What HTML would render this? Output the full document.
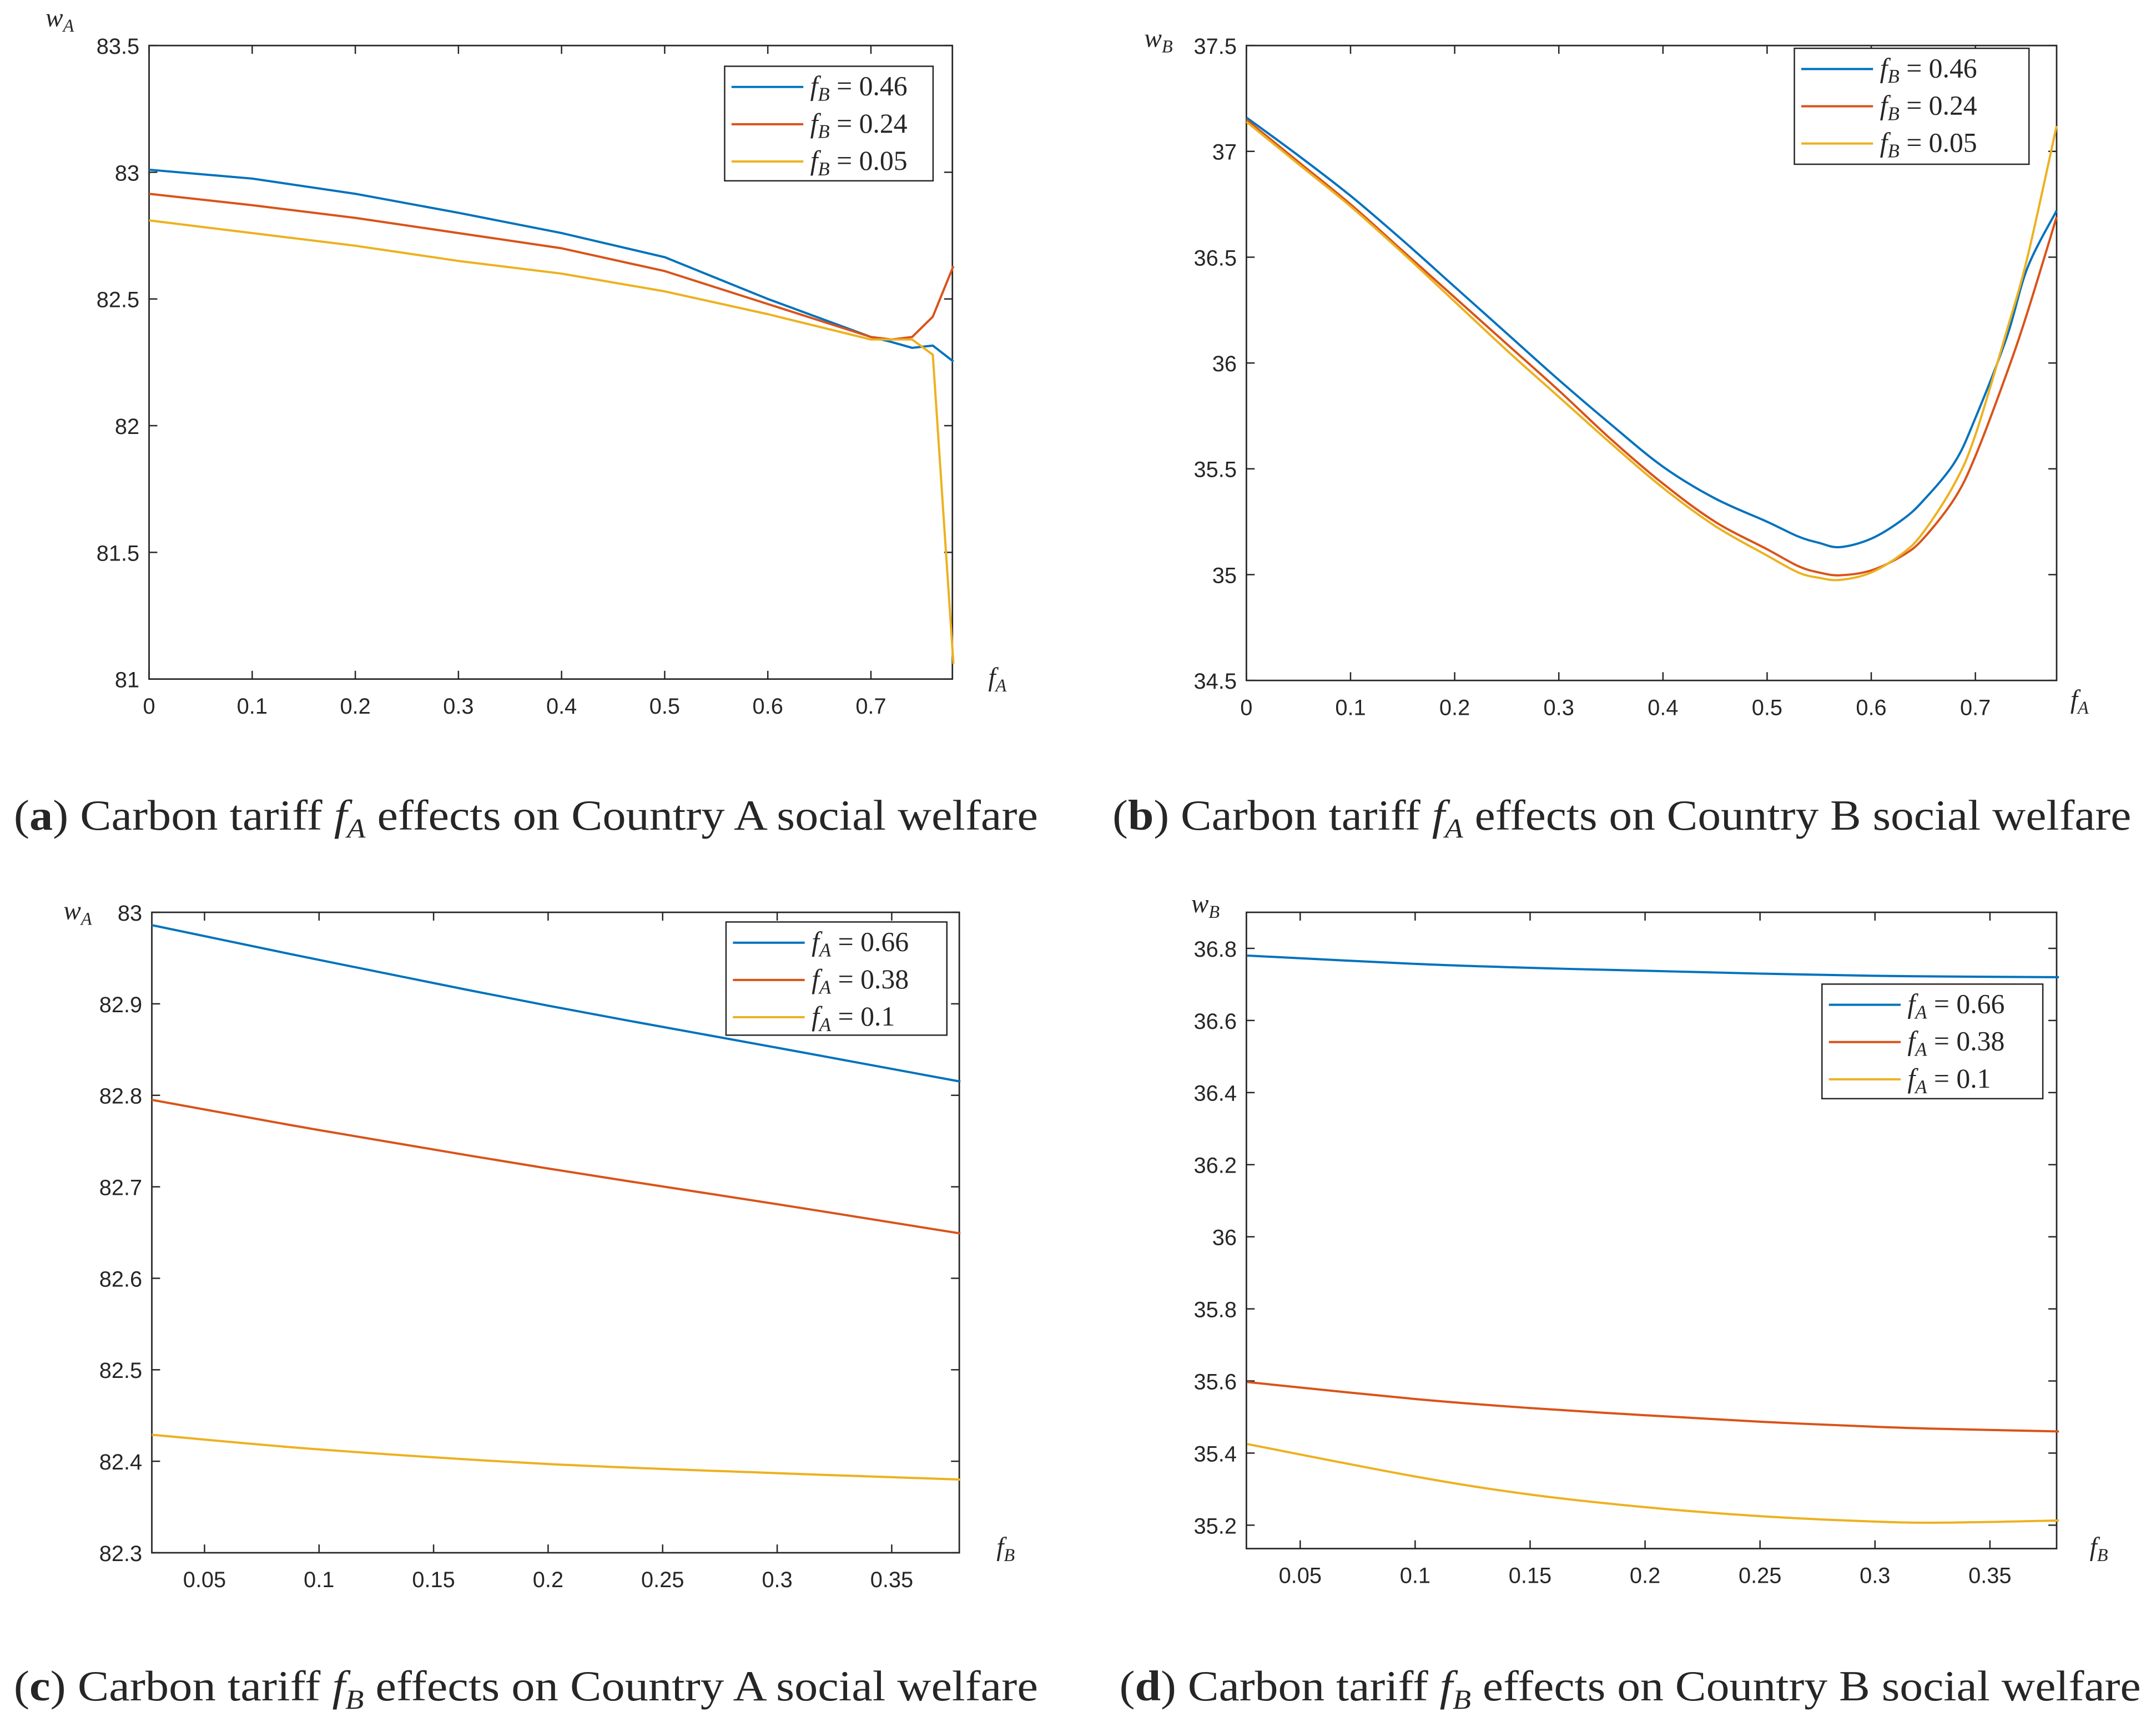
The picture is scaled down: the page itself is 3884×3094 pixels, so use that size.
<!DOCTYPE html>
<html><head><meta charset="utf-8"><style>
html,body{margin:0;padding:0;background:#fff;}
svg{display:block;}
text{font-family:"Liberation Sans",sans-serif;fill:#262626;}
.serif{font-family:"Liberation Serif",serif;}
</style></head><body>
<svg id="fig" width="3884" height="3094" viewBox="0 0 1562 1244" preserveAspectRatio="none" xmlns="http://www.w3.org/2000/svg">
<rect x="0" y="0" width="1562" height="1244" fill="#fff"/>
</svg>
<script>
// Panel (a): welfare A vs fA
const aX = [0,0.1,0.2,0.3,0.4,0.5,0.6,0.7,0.72,0.74,0.76,0.78];
const aBlue = [83.01,82.975,82.915,82.84,82.76,82.665,82.50,82.35,82.33,82.307,82.316,82.253];
const aRed = [82.915,82.87,82.82,82.76,82.70,82.61,82.48,82.35,82.34,82.35,82.43,82.63];
const aYellow = [82.81,82.76,82.71,82.65,82.60,82.53,82.44,82.34,82.34,82.34,82.28,81.06];
const aXTicks = ["0","0.1","0.2","0.3","0.4","0.5","0.6","0.7"];
const aYTicks = ["81","81.5","82","82.5","83","83.5"];
// Panel (b): welfare B vs fA
const bX = [0,0.05,0.1,0.15,0.2,0.25,0.3,0.35,0.4,0.45,0.5,0.53,0.55,0.57,0.6,0.63,0.65,0.68,0.7,0.73,0.75,0.778];
const bBlue = [37.16,36.98,36.79,36.58,36.36,36.14,35.92,35.71,35.51,35.36,35.25,35.18,35.15,35.13,35.17,35.26,35.35,35.53,35.74,36.12,36.45,36.72];
const bRed = [37.15,36.95,36.75,36.53,36.31,36.09,35.87,35.64,35.43,35.25,35.12,35.04,35.01,34.997,35.02,35.09,35.17,35.36,35.56,35.95,36.24,36.69];
const bYellow = [37.14,36.94,36.74,36.52,36.29,36.06,35.84,35.62,35.41,35.23,35.09,35.01,34.985,34.975,35.01,35.1,35.2,35.43,35.66,36.15,36.5,37.12];
const bXTicks = ["0","0.1","0.2","0.3","0.4","0.5","0.6","0.7"];
const bYTicks = ["34.5","35","35.5","36","36.5","37","37.5"];
// Panel (c): welfare A vs fB
const cX = [0.027,0.1,0.2,0.3,0.38];
const cBlue = [82.986,82.948,82.898,82.852,82.815];
const cRed = [82.795,82.762,82.72,82.681,82.649];
const cYellow = [82.429,82.413,82.397,82.387,82.380];
const cXTicks = ["0.05","0.1","0.15","0.2","0.25","0.3","0.35"];
const cYTicks = ["82.3","82.4","82.5","82.6","82.7","82.8","82.9","83"];
// Panel (d): welfare B vs fB
const dX = [0.027,0.1,0.15,0.2,0.25,0.3,0.33,0.38];
const dBlue = [36.78,36.757,36.746,36.738,36.73,36.724,36.722,36.72];
const dRed = [35.597,35.55,35.525,35.505,35.487,35.473,35.467,35.46];
const dYellow = [35.425,35.335,35.285,35.25,35.225,35.21,35.207,35.213];
const dXTicks = ["0.05","0.1","0.15","0.2","0.25","0.3","0.35"];
const dYTicks = ["35.2","35.4","35.6","35.8","36","36.2","36.4","36.6","36.8"];

const NS="http://www.w3.org/2000/svg";
const svg=document.getElementById('fig');
const COLORS=["#0072BD","#D95319","#EDB120"];
function mk(tag,attrs,parent){const e=document.createElementNS(NS,tag);for(const k in attrs)e.setAttribute(k,attrs[k]);(parent||svg).appendChild(e);return e;}

function pathD(pts,smooth){
  if(!smooth) return pts.map((p,j)=>(j?'L':'M')+p[0].toFixed(2)+' '+p[1].toFixed(2)).join(' ');
  let d='M'+pts[0][0].toFixed(2)+' '+pts[0][1].toFixed(2);
  for(let i=0;i<pts.length-1;i++){
    const p0=pts[Math.max(0,i-1)],p1=pts[i],p2=pts[i+1],p3=pts[Math.min(pts.length-1,i+2)];
    const c1=[p1[0]+(p2[0]-p0[0])/6,p1[1]+(p2[1]-p0[1])/6];
    const c2=[p2[0]-(p3[0]-p1[0])/6,p2[1]-(p3[1]-p1[1])/6];
    d+=' C'+c1[0].toFixed(2)+' '+c1[1].toFixed(2)+' '+c2[0].toFixed(2)+' '+c2[1].toFixed(2)+' '+p2[0].toFixed(2)+' '+p2[1].toFixed(2);
  }
  return d;
}

function panel(id,box,xr,yr,xs,series,xt,yt,legend,leg,labels,smooth){
  const g=mk('g',{});
  
  
  const sx=v=>box.x0+(v-xr[0])/(xr[1]-xr[0])*(box.x1-box.x0);
  const sy=v=>box.y1-(v-yr[0])/(yr[1]-yr[0])*(box.y1-box.y0);
  const fr=mk('rect',{x:box.x0,y:box.y0,width:box.x1-box.x0,height:box.y1-box.y0,fill:'#fff',stroke:'#262626','stroke-width':1.1},g);
  
  
  xt.forEach(t=>{const v=parseFloat(t),x=sx(v);
    mk('line',{x1:x,x2:x,y1:box.y1,y2:box.y1-6,stroke:'#262626','stroke-width':1},g);
    mk('line',{x1:x,x2:x,y1:box.y0,y2:box.y0+6,stroke:'#262626','stroke-width':1},g);
    const tx=mk('text',{x:x,y:box.y1+25,'font-size':16,'text-anchor':'middle'},g);tx.textContent=t;
    
    
  });
  yt.forEach(t=>{const v=parseFloat(t),y=sy(v);
    mk('line',{x1:box.x0,x2:box.x0+6,y1:y,y2:y,stroke:'#262626','stroke-width':1},g);
    mk('line',{x1:box.x1,x2:box.x1-6,y1:y,y2:y,stroke:'#262626','stroke-width':1},g);
    const tx=mk('text',{x:box.x0-7,y:y+6,'font-size':16,'text-anchor':'end'},g);tx.textContent=t;
    
    
  });
  series.forEach((s,i)=>{
    const pts=s.map((v,j)=>[sx(xs[j]),sy(v)]);
    const p=mk('path',{d:pathD(pts,smooth),fill:'none',stroke:COLORS[i],'stroke-width':1.6,'stroke-linejoin':'round'},g);
    
    
  });
  const lg=mk('g',{},g);
  
  
  mk('rect',{x:leg.x,y:leg.y,width:leg.w,height:leg.h,fill:'#fff',stroke:'#262626','stroke-width':1},lg);
  legend.forEach((L,i)=>{const y=leg.y+15+i*27;
    mk('line',{x1:leg.x+5,x2:leg.x+57,y1:y,y2:y,stroke:COLORS[i],'stroke-width':1.6},lg);
    const t=mk('text',{x:leg.x+62,y:y+6,'font-size':20,'class':'serif'},lg);
    t.innerHTML='<tspan font-style="italic">f</tspan><tspan font-style="italic" font-size="14" dy="4">'+L[0]+'</tspan><tspan dy="-4"> = '+L.slice(1)+'</tspan>';
    
    
  });
  labels.forEach(l=>{const t=mk('text',{x:l.x,y:l.y,'font-size':19,'class':'serif'},g);
    t.innerHTML='<tspan font-style="italic">'+l.m+'</tspan><tspan font-style="italic" font-size="13" dy="4">'+l.s+'</tspan>';
    
    
  });
}
panel('a',{x0:108,x1:690,y0:33,y1:492},[0,0.779],[81,83.5],aX,[aBlue,aRed,aYellow],aXTicks,aYTicks,
  ["B0.46","B0.24","B0.05"],{x:525,y:48,w:151,h:83},
  [{x:33,y:19,m:'w',s:'A',n:'y-axis-title'},{x:716,y:497,m:'f',s:'A',n:'x-axis-title'}],false);
panel('b',{x0:903,x1:1490,y0:33,y1:493},[0,0.778],[34.5,37.5],bX,[bBlue,bRed,bYellow],bXTicks,bYTicks,
  ["B0.46","B0.24","B0.05"],{x:1300,y:35,w:170,h:84},
  [{x:829,y:34,m:'w',s:'B',n:'y-axis-title'},{x:1500,y:513,m:'f',s:'A',n:'x-axis-title'}],true);
panel('c',{x0:110,x1:695,y0:661,y1:1125},[0.027,0.3795],[82.3,83],cX,[cBlue,cRed,cYellow],cXTicks,cYTicks,
  ["A0.66","A0.38","A0.1"],{x:526,y:668,w:160,h:82},
  [{x:46,y:666,m:'w',s:'A',n:'y-axis-title'},{x:722,y:1127,m:'f',s:'B',n:'x-axis-title'}],true);
panel('d',{x0:903,x1:1490,y0:661,y1:1122},[0.0266,0.379],[35.135,36.9],dX,[dBlue,dRed,dYellow],dXTicks,dYTicks,
  ["A0.66","A0.38","A0.1"],{x:1320,y:713,w:160,h:83},
  [{x:863,y:661,m:'w',s:'B',n:'y-axis-title'},{x:1514,y:1127,m:'f',s:'B',n:'x-axis-title'}],true);

const captions=[
 {x:10,y:601,w:742,l:'a',v:'A',c:'A'},
 {x:806,y:601,w:738,l:'b',v:'A',c:'B'},
 {x:10,y:1232,w:742,l:'c',v:'B',c:'A'},
 {x:811,y:1232,w:740,l:'d',v:'B',c:'B'}];
captions.forEach(c=>{
  const t=mk('text',{x:c.x,y:c.y,'font-size':31,'class':'serif',fill:'#111',textLength:c.w,lengthAdjust:'spacingAndGlyphs'});
  t.innerHTML='(<tspan font-weight="bold">'+c.l+'</tspan>) Carbon tariff  <tspan font-style="italic">f</tspan><tspan font-style="italic" font-size="20" dy="6">'+c.v+'</tspan><tspan dy="-6">  effects on Country '+c.c+' social welfare</tspan>';
  
  
});
</script>
</body></html>
